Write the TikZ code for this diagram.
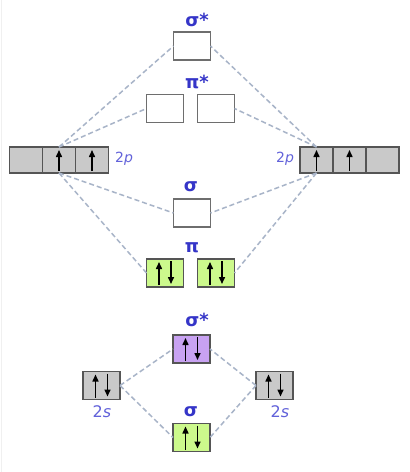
\documentclass[tikz,border=0pt]{standalone}
\usepackage{fontspec}
\setmainfont{DejaVu Sans}
\usetikzlibrary{arrows.meta}
\definecolor{lblue}{HTML}{3535C8}
\definecolor{sblue}{HTML}{6262DA}
\definecolor{dgray}{HTML}{555555}
\definecolor{gfill}{HTML}{C9C9C9}
\definecolor{grfill}{HTML}{CCF98C}
\definecolor{pufill}{HTML}{C8A2F2}
\definecolor{dash}{HTML}{A8B4C8}
\tikzset{
  orb/.style={draw=dgray, line width=1.6pt, minimum width=37pt, minimum height=28pt, inner sep=0pt, outer sep=0pt},
  emptyorb/.style={orb, draw=dgray!85, fill=white},
  grayorb/.style={orb, fill=gfill},
  cell/.style={draw=dgray, line width=1.6pt, fill=gfill, minimum width=33pt, minimum height=26pt, inner sep=0pt, outer sep=0pt},
  greenorb/.style={orb, fill=grfill},
  purporb/.style={orb, fill=pufill},
  mo/.style={text=lblue, font=\fontsize{18}{18}\selectfont\bfseries, inner sep=0pt},
  ao/.style={text=sblue, font=\fontsize{14}{14}\selectfont, inner sep=0pt},
  conn/.style={draw=dash, line width=1.5pt, dash pattern=on 5pt off 3pt},
  el/.style={line width=1.5pt, -{Triangle[length=7pt,width=6pt]}},
}
\newcommand{\pairup}[1]{%
  \draw[el] ([xshift=-6pt,yshift=2pt]#1.south) -- ([xshift=-6pt,yshift=-3pt]#1.north);
  \draw[el] ([xshift=6pt,yshift=-2pt]#1.north) -- ([xshift=6pt,yshift=3pt]#1.south);}
\newcommand{\singleup}[1]{%
  \draw[el] ([yshift=2pt]#1.south) -- ([yshift=-3pt]#1.north);}
\begin{document}
\begin{tikzpicture}[x=1pt,y=-1pt]
\useasboundingbox[fill=white] (0,0) rectangle (410,472);
\draw[gray!12, line width=1pt] (1.5,0) -- (1.5,472);

% upper part: 2p
\node[emptyorb] (sst) at (192,46) {};
\node[emptyorb] (pstl) at (165,108.5) {};
\node[emptyorb] (pstr) at (216,108.5) {};
\node[emptyorb] (sg) at (192,213) {};
\node[greenorb] (pil) at (165,273) {};
\node[greenorb] (pir) at (216,273) {};

\node[cell] (l1) at (26,160) {};
\node[cell] (l2) at (59,160) {};
\node[cell] (l3) at (92,160) {};
\node[cell] (r1) at (316.5,160) {};
\node[cell] (r2) at (349.5,160) {};
\node[cell] (r3) at (382.5,160) {};

\node[mo] (lsst) at (197,20) {σ*};
\node[mo] (lpst) at (197,82) {π*};
\node[mo] (lsg) at (191,187) {σ};
\node[mo] (lpi) at (192,248) {π};
\node[ao] (l2p) at (124,159) {2\textit{p}};
\node[ao] (r2p) at (285,159) {2\textit{p}};

\draw[conn] (l2.north) -- (sst.west);
\draw[conn] (l2.north) -- (pstl.west);
\draw[conn] (r1.north) -- (sst.east);
\draw[conn] (r1.north) -- (pstr.east);
\draw[conn] (l2.south) -- (sg.west);
\draw[conn] (l2.south) -- (pil.west);
\draw[conn] (r1.south) -- (sg.east);
\draw[conn] (r1.south) -- (pir.east);

\singleup{l2}
\singleup{l3}
\singleup{r1}
\singleup{r2}
\pairup{pil}
\pairup{pir}

% lower part: 2s
\node[purporb] (sst2) at (191.5,349) {};
\node[grayorb] (s2l) at (101.5,385.5) {};
\node[grayorb] (s2r) at (274.5,385.5) {};
\node[greenorb] (sg2) at (191.5,437.5) {};
\node[mo] (lsst2) at (197,320) {σ*};
\node[mo] (lsg2) at (191,412) {σ};
\node[ao, font=\fontsize{16}{16}\selectfont] (l2s) at (102,412) {2\textit{s}};
\node[ao, font=\fontsize{16}{16}\selectfont] (r2s) at (280,412) {2\textit{s}};

\draw[conn] (s2l.east) -- (sst2.west);
\draw[conn] (s2l.east) -- (sg2.west);
\draw[conn] (s2r.west) -- (sst2.east);
\draw[conn] (s2r.west) -- (sg2.east);

\pairup{sst2}
\pairup{s2l}
\pairup{s2r}
\pairup{sg2}
\end{tikzpicture}
\end{document}
